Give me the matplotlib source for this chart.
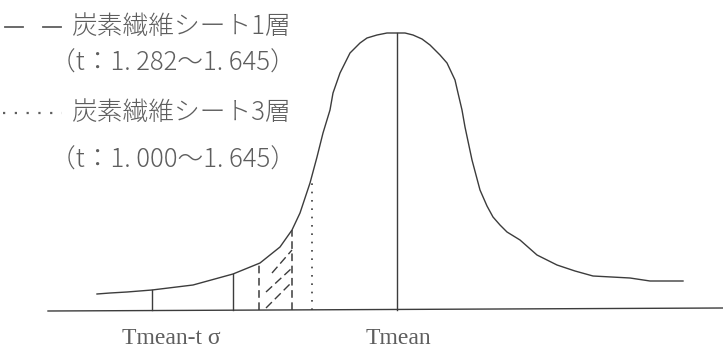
import matplotlib
matplotlib.use("Agg")
import matplotlib.pyplot as plt

# Curve (x: temperature axis in px units, y: height above baseline)
curve_x = [97, 110, 127, 152, 193, 233, 260, 280, 292, 300, 310, 317, 323, 330, 333, 340,
           350, 360, 367, 377, 387, 397, 405, 413, 422, 430, 440, 447, 455, 458, 462, 465,
           472, 480, 487, 493, 500, 507, 520, 537, 557, 575, 593, 630, 650, 683]
curve_y = [16, 17, 18, 20, 25, 36, 47, 63, 80, 97, 127, 153, 177, 200, 217, 237,
           257, 267, 272, 275, 277, 277, 277, 275, 271, 265, 255, 247, 230, 217, 200, 183,
           150, 120, 104, 93, 85, 78, 70, 55, 45, 39, 34, 32, 29, 29]

t_mean = 397
t_sigma_x = 152
solid_x = 233
sheet1_x = [259, 292]
sheet1_top = [48, 80]
sheet3_x = 312
sheet3_top = 128
hatch_x0 = [266, 266, 272]
hatch_y0 = [2, 18, 37]
hatch_x1 = [292, 292, 292]
hatch_y1 = [28, 42, 60]

legend_labels = ["炭素繊維シート1層", "（t：1. 282～1. 645）",
                 "炭素繊維シート3層", "（t：1. 000～1. 645）"]
axis_labels = ["Tmean-t σ", "Tmean"]

ink = "#3c3c3c"
txt = "#5e5e5e"

fig = plt.figure(figsize=(7.23, 3.54), dpi=100)
ax = fig.add_axes([0, 0, 1, 1])
ax.set_xlim(0, 723)
ax.set_ylim(-44, 310)
ax.axis("off")

# baseline
ax.plot([48, 723], [-1, 2], color=ink, lw=1.0)
# curve
ax.plot(curve_x, curve_y, color=ink, lw=1.0)
# Tmean line
ax.plot([t_mean, t_mean], [0, 277], color=ink, lw=1.0)
# Tmean - t sigma line
ax.plot([t_sigma_x, t_sigma_x], [0, 20], color=ink, lw=1.0)
ax.plot([solid_x, solid_x], [0, 36], color=ink, lw=1.0)
# sheet 1 layer (dashed region)
for x, top in zip(sheet1_x, sheet1_top):
    ax.plot([x, x], [0, top], color=ink, lw=1.1, ls=(0, (5, 3)))
for x0, y0, x1, y1 in zip(hatch_x0, hatch_y0, hatch_x1, hatch_y1):
    ax.plot([x0, x1], [y0, y1], color=ink, lw=1.0, ls=(0, (6, 3)))
# sheet 3 layer (dotted)
ax.plot([sheet3_x, sheet3_x], [0, sheet3_top], color=ink, lw=1.2, ls=(0, (1, 4)))

# legend keys
ax.plot([5, 23], [283, 283], color=txt, lw=1.3)
ax.plot([43, 61], [283, 283], color=txt, lw=1.3)
ax.plot([3, 62], [197, 197], color=txt, lw=1.6, ls=(0, (1, 4.3)))

jp = ["Noto Sans CJK JP", "DejaVu Sans"]
fs = 18.5
ax.text(72, 283, legend_labels[0], family=jp, fontsize=fs, color=txt,
        va="center", ha="left", fontweight="light")
ax.text(50, 247, legend_labels[1], family=jp, fontsize=fs, color=txt,
        va="center", ha="left", fontweight="light")
ax.text(72, 197, legend_labels[2], family=jp, fontsize=fs, color=txt,
        va="center", ha="left", fontweight="light")
ax.text(50, 150, legend_labels[3], family=jp, fontsize=fs, color=txt,
        va="center", ha="left", fontweight="light")

serif = ["Liberation Serif", "DejaVu Serif"]
ax.text(171, -28, axis_labels[0], family=serif, fontsize=17, color=txt,
        va="center", ha="center")
ax.text(398, -28, axis_labels[1], family=serif, fontsize=17, color=txt,
        va="center", ha="center")

fig.savefig("out.png", dpi=100, facecolor="white")
